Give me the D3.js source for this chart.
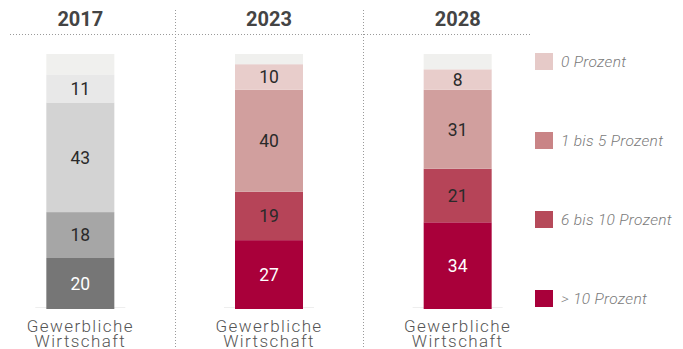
<!DOCTYPE html>
<html>
<head>
<meta charset="utf-8">
<script src="https://cdn.jsdelivr.net/npm/d3@7/dist/d3.min.js"></script>
<style>
  html, body { margin: 0; padding: 0; background: #fff; }
  svg { display: block; font-family: Roboto, "Liberation Sans", sans-serif; }
</style>
</head>
<body>
<svg id="chart" width="683" height="349"></svg>
<script>
// Share of companies by expected price increase, stacked per year (percent)
const years = ["2017", "2023", "2028"];
const category = ["Gewerbliche", "Wirtschaft"];
const values2017 = [20, 18, 43, 11];
const values2023 = [27, 19, 40, 10];
const values2028 = [34, 21, 31, 8];
const seriesValues = [values2017, values2023, values2028];

// Fill colours, bottom to top; last entry is the unlabelled remainder
const greyFills = ["#767676", "#a6a6a6", "#d3d3d3", "#e8e8e8", "#f0f0ee"];
const redFills = ["#a9003a", "#b64458", "#d19f9e", "#e8cdcb", "#f0f0ee"];
const legendFills = ["#e6cac8", "#c98486", "#b64a5a", "#a8003a"];
const legendLabels = ["0 Prozent", "1 bis 5 Prozent", "6 bis 10 Prozent", "> 10 Prozent"];

const svg = d3.select("#chart");

const x = d3.scaleBand().domain(years).range([-14, 552]).paddingInner(0).paddingOuter(0);
const y = d3.scaleLinear().domain([0, 100]).range([309, 54]);
const barW = 68;
const cx = d => x(d) + x.bandwidth() / 2;

// Stack each year's bands and add the remainder to 100 on top
const stacks = years.map((yr, i) => {
  const vals = seriesValues[i].concat([100 - d3.sum(seriesValues[i])]);
  let acc = 0;
  return vals.map((v, j) => {
    const seg = { year: yr, idx: j, value: v, y0: acc, y1: acc + v, labelled: j < vals.length - 1 };
    acc += v;
    return seg;
  });
});

// Column dividers and header rule
const dotted = { stroke: "#9a9a9a", "stroke-width": 1, "stroke-dasharray": "1,2" };
[1, 2].forEach(k => {
  const xv = Math.round(x(years[k])) + 0.5;
  const l = svg.append("line").attr("x1", xv).attr("x2", xv).attr("y1", 10).attr("y2", 349);
  Object.entries(dotted).forEach(([a, v]) => l.attr(a, v));
});
const hr = svg.append("line").attr("x1", 10).attr("x2", 532).attr("y1", 34.5).attr("y2", 34.5);
Object.entries(dotted).forEach(([a, v]) => hr.attr(a, v));

// Year headers
svg.selectAll("text.year").data(years).join("text")
  .attr("class", "year")
  .attr("x", cx)
  .attr("y", 26)
  .attr("text-anchor", "middle")
  .attr("font-size", 20)
  .attr("font-weight", 700)
  .attr("fill", "#444")
  .text(d => d);

// Baseline under each bar
svg.selectAll("line.base").data(years).join("line")
  .attr("class", "base")
  .attr("x1", d => cx(d) - 45)
  .attr("x2", d => cx(d) + 45)
  .attr("y1", y(0) - 1.5).attr("y2", y(0) - 1.5)
  .attr("stroke", "#eeeeee").attr("stroke-width", 1);

// Bars
const col = svg.selectAll("g.col").data(stacks).join("g").attr("class", "col");
col.selectAll("rect").data(d => d).join("rect")
  .attr("x", d => cx(d.year) - barW / 2)
  .attr("width", barW)
  .attr("y", d => y(d.y1))
  .attr("height", d => y(d.y0) - y(d.y1))
  .attr("fill", d => (d.year === "2017" ? greyFills : redFills)[d.idx]);

col.selectAll("text").data(d => d.filter(s => s.labelled)).join("text")
  .attr("x", d => cx(d.year))
  .attr("y", d => (y(d.y0) + y(d.y1)) / 2)
  .attr("dy", "0.36em")
  .attr("text-anchor", "middle")
  .attr("font-size", 17.5)
  .attr("fill", d => d.idx === 0 ? "#ffffff" : "#2a2a2a")
  .text(d => d.value);

// Category labels under each bar
years.forEach(yr => {
  const t = svg.append("text")
    .attr("x", cx(yr))
    .attr("y", 331.5)
    .attr("text-anchor", "middle")
    .attr("font-size", 17)
    .attr("font-weight", 300)
    .attr("letter-spacing", 1.4)
    .attr("fill", "#555");
  t.append("tspan").attr("x", cx(yr)).text(category[0]);
  t.append("tspan").attr("x", cx(yr)).attr("dy", 15).text(category[1]);
});

// Legend
const ly = d3.scalePoint().domain(legendLabels).range([53, 290]);
const lg = svg.selectAll("g.leg").data(legendLabels).join("g")
  .attr("class", "leg")
  .attr("transform", d => `translate(535,${ly(d)})`);
lg.append("rect").attr("width", 18).attr("height", 17).attr("fill", (d, i) => legendFills[i]);
lg.append("text")
  .attr("x", 26).attr("y", 8.5).attr("dy", "0.36em")
  .attr("font-size", 15.5)
  .attr("font-style", "italic")
  .attr("font-weight", 300)
  .attr("letter-spacing", 0.3)
  .attr("fill", "#7a7a7a")
  .text(d => d);
</script>
</body>
</html>
